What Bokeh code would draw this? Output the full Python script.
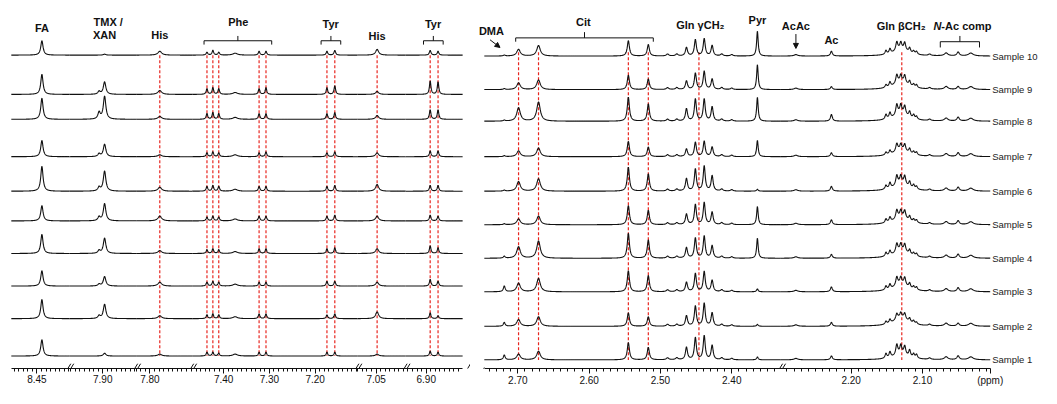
import numpy as np
from bokeh.plotting import figure
from bokeh.layouts import row
from bokeh.models import Range1d, FixedTicker, Arrow, NormalHead
from bokeh.core.properties import value
from bokeh.embed import file_html
from bokeh.resources import INLINE

FONT = "Liberation Sans"

SAMPLES = ["Sample 1", "Sample 2", "Sample 3", "Sample 4", "Sample 5",
           "Sample 6", "Sample 7", "Sample 8", "Sample 9", "Sample 10"]

# ---------------- left (aromatic) region: data ----------------
LEFT_TICKS = [8.45, 7.90, 7.80, 7.40, 7.30, 7.20, 7.05, 6.90]
LEFT_PEAK_PPM = [8.439, 7.908, 7.896, 7.7785, 7.4366, 7.4237, 7.4108, 7.375,
                 7.3226, 7.3075, 7.1742, 7.1570, 7.0478, 6.8914, 6.8742]
LEFT_PEAK_HWHM = [0.003, 0.003, 0.0033, 0.005, 0.002, 0.002, 0.002, 0.006,
                  0.002, 0.002, 0.002, 0.002, 0.004, 0.002, 0.002]
# heights, one row per peak, columns Sample 1 .. Sample 10
LEFT_HEIGHTS = [
    [17, 20, 16, 20, 16, 26, 17, 22, 21, 15],   # FA
    [0, 3, 2, 3, 4, 4, 3, 7, 3, 0],             # TMX shoulder
    [3, 15, 10, 16, 18, 21, 13, 24, 13, 1],     # TMX / XAN
    [2, 3, 4, 3, 5, 4, 2, 3, 4, 4],             # His
    [4, 4, 4, 4, 4, 5, 4, 6, 6, 3],             # Phe
    [4, 5, 5, 5, 5, 6, 5, 7, 7, 5],             # Phe
    [3, 4, 4, 4, 4, 5, 4, 6, 6, 3],             # Phe
    [2, 2, 2, 2, 2, 2, 2, 2, 2, 2],             # Phe broad
    [4, 5, 4, 5, 5, 5, 4, 6, 6, 4],             # Phe
    [4, 5, 4, 5, 5, 5, 5, 6, 7, 4],             # Phe
    [4, 4, 5, 5, 5, 5, 4, 6, 7, 4],             # Tyr
    [4, 5, 5, 6, 6, 6, 5, 7, 9, 5],             # Tyr
    [2, 7, 4, 5, 5, 7, 4, 4, 3, 6],             # His
    [5, 6, 7, 8, 6, 6, 6, 10, 14, 5],           # Tyr
    [4, 3, 5, 6, 5, 6, 6, 10, 13, 4],           # Tyr
]
LEFT_MARKERS = [7.7785, 7.4366, 7.4237, 7.4108, 7.3226, 7.3075,
                7.1742, 7.1570, 7.0478, 6.8914, 6.8742]

# ---------------- right (aliphatic) region: data ----------------
RIGHT_TICKS = [2.70, 2.60, 2.50, 2.40, 2.20, 2.10]
RIGHT_PEAK_PPM = [2.719, 2.699, 2.671, 2.545, 2.517, 2.490, 2.477,
                  2.4635, 2.451, 2.4386, 2.4275, 2.414, 2.400, 2.364,
                  2.2775, 2.2277, 2.130,
                  2.1512, 2.1456, 2.136, 2.1304, 2.1249, 2.118, 2.1124, 2.1083,
                  2.090, 2.0668, 2.050, 2.0322]
RIGHT_PEAK_HWHM = [0.0015, 0.003, 0.003, 0.0018, 0.0018, 0.002, 0.002,
                   0.0017, 0.0017, 0.0017, 0.0017, 0.002, 0.002, 0.0013,
                   0.003, 0.0016, 0.012,
                   0.0015, 0.0015, 0.0017, 0.0016, 0.0016, 0.0015, 0.0015, 0.0015,
                   0.002, 0.003, 0.002, 0.004]
RIGHT_HEIGHTS = [
    [5, 4, 6, 2, 1, 1, 1, 1, 1, 1],             # DMA
    [6, 7, 9, 12, 6, 10, 6, 14, 7, 7],          # Cit
    [9, 10, 14, 18, 9, 13, 9, 20, 10, 11],      # Cit
    [18, 14, 22, 26, 20, 25, 16, 25, 15, 16],   # Cit
    [13, 10, 17, 19, 15, 18, 10, 18, 11, 12],   # Cit
    [2, 2, 2, 2, 2, 2, 2, 2, 2, 2],
    [2, 2, 2, 2, 2, 2, 2, 2, 2, 2],
    [13, 11, 10, 11, 11, 13, 8, 13, 9, 9],      # Gln gamma
    [23, 21, 19, 21, 21, 23, 15, 23, 17, 17],
    [25, 24, 21, 23, 23, 26, 16, 23, 19, 18],
    [15, 14, 12, 13, 13, 16, 10, 15, 11, 11],
    [2, 2, 2, 2, 2, 2, 2, 2, 2, 2],
    [1.5, 1.5, 1.5, 1.5, 1.5, 1.5, 1.5, 1.5, 1.5, 1.5],
    [3, 2, 3, 21, 19, 2, 17, 25, 26, 26],       # Pyr
    [1.5, 1.5, 1.5, 1.5, 1.5, 1.5, 1.5, 1.5, 1.5, 1.5],  # AcAc
    [4, 4, 5, 4, 5, 5, 4, 7, 3, 5],             # Ac
    [6, 9, 8, 8, 8, 8, 7, 8, 8, 7],             # Gln beta broad
    [5, 3, 4, 4, 4, 4, 3, 5, 3, 4],
    [6, 4, 5, 5, 5, 6, 4, 6, 5, 5],
    [11, 6, 9, 9, 9, 10, 8, 11, 9, 9],
    [9, 5, 7, 7, 7, 8, 6, 9, 7, 7],
    [9, 6, 8, 8, 8, 9, 7, 9, 8, 8],
    [7, 4, 5, 5, 5, 6, 5, 6, 5, 5],
    [4, 3, 3, 3, 3, 4, 3, 4, 3, 3],
    [4, 2, 3, 3, 3, 3, 3, 3, 3, 3],
    [1.5, 1.5, 1.5, 1.5, 1.5, 1.5, 1.5, 1.5, 1.5, 1.5],
    [3, 3, 3, 3, 3, 3, 3, 3, 3, 3],             # N-Ac
    [4, 3, 4, 4, 4, 4, 4, 4, 3, 4],
    [3, 3, 3, 3, 3, 3, 3, 3, 3, 3],
]
RIGHT_MARKERS = [2.699, 2.671, 2.545, 2.517, 2.446, 2.129]
UNIT_LABEL = "(ppm)"

# ---------------- layout (display units = reference pixels) ----------------
LEFT_SEGS = [(11, 70, 8.45, 37), (70, 138, 7.90, 104), (138, 195, 7.80, 152),
             (195, 363, 7.40, 227), (363, 412, 7.05, 382), (412, 470, 6.90, 433)]
LEFT_SCALE = 465.0
RIGHT_SEGS = [(492, 792, 2.70, 526), (792, 1005, 2.20, 864)]
RIGHT_SCALE = 723.0
LEFT_BASE = [371, 332, 298, 264, 230, 199, 163, 124, 98, 57]
RIGHT_BASE = [375, 340, 304, 269, 234, 199, 163, 126, 93, 58]
AXIS_Y = 384
TOP_Y = 0


def to_disp(ppm, segs, scale):
    for d0, d1, ap, ad in segs:
        hi = ap + (ad - d0) / scale
        lo = ap - (d1 - ad) / scale
        if lo - 1e-9 <= ppm <= hi + 1e-9:
            return float(ad + (ap - ppm) * scale)
    return None


def spectra(segs, scale, ppms, hwhm, heights, bases):
    P = np.array(ppms)[:, None]
    W = np.array(hwhm)[:, None]
    H = np.array(heights, dtype=float)
    xs, ys = [], []
    for s in range(len(bases)):
        for d0, d1, ap, ad in segs:
            d = np.arange(d0, d1 + 1e-6, 0.25)
            ppm = ap - (d - ad) / scale
            inten = (H[:, s][:, None] * W ** 2 / ((ppm[None, :] - P) ** 2 + W ** 2)).sum(0)
            xs.append(d.tolist())
            ys.append((bases[s] - inten).tolist())
    return xs, ys


def make_fig(x0, x1, width):
    p = figure(width=width, height=388, x_range=Range1d(x0, x1),
               y_range=Range1d(AXIS_Y, TOP_Y), output_backend="svg",
               toolbar_location=None, min_border_left=0, min_border_right=0,
               min_border_top=0, min_border_bottom=16)
    p.yaxis.visible = False
    p.grid.visible = False
    p.outline_line_color = None
    p.background_fill_color = "white"
    p.border_fill_color = "white"
    return p


def style_axis(p, segs, scale, ticks, bounds, extra=None):
    major = [to_disp(t, segs, scale) for t in ticks]
    labels = {m: f"{t:.2f}" for m, t in zip(major, ticks)}
    if extra:
        for pos, txt in extra:
            major.append(float(pos))
            labels[float(pos)] = txt
    minor = []
    for d0, d1, ap, ad in segs:
        hi = ap + (ad - d0) / scale
        lo = ap - (d1 - ad) / scale
        for k in range(int(np.ceil(lo * 100 - 1e-6)), int(np.floor(hi * 100 + 1e-6)) + 1):
            minor.append(float(ad + (ap - k / 100) * scale))
    ax = p.xaxis[0]
    ax.ticker = FixedTicker(ticks=major, minor_ticks=minor)
    ax.major_label_overrides = labels
    ax.bounds = bounds
    ax.axis_line_color = "#111111"
    ax.major_tick_line_color = "#111111"
    ax.minor_tick_line_color = "#111111"
    ax.major_tick_in = 0
    ax.major_tick_out = 5
    ax.minor_tick_in = 0
    ax.minor_tick_out = 3
    ax.major_label_standoff = 1
    ax.major_label_text_font = FONT
    ax.major_label_text_font_size = "10px"
    ax.major_label_text_color = "#111111"


def slash(p, x, y, dx=4, dy=6):
    p.add_layout(Arrow(end=None, start=None, x_start=x - dx, y_start=y + dy,
                       x_end=x + dx, y_end=y - dy, line_color="#111111",
                       line_width=1, level="overlay"))


def bold_text(p, x, y, txt, align="center", size="11px", style="bold"):
    p.text(x=[x], y=[y], text=[txt], text_font=value(FONT), text_font_size=size,
           text_font_style=style, text_align=align, text_baseline="middle",
           text_color="#111111")


def bracket(p, xa, xb, y, down=4, up=5):
    xm = (xa + xb) / 2
    p.multi_line(xs=[[xa, xa, xb, xb], [xm, xm]], ys=[[y + down, y, y, y + down], [y, y - up]],
                 line_color="#111111", line_width=1)


# ---------------- left panel ----------------
pl = make_fig(0, 478, 470)
xs, ys = spectra(LEFT_SEGS, LEFT_SCALE, LEFT_PEAK_PPM, LEFT_PEAK_HWHM, LEFT_HEIGHTS, LEFT_BASE)
lm = [to_disp(v, LEFT_SEGS, LEFT_SCALE) for v in LEFT_MARKERS]
pl.segment(x0=lm, y0=[LEFT_BASE[-1]] * len(lm), x1=lm, y1=[LEFT_BASE[0]] * len(lm),
           line_color="#e8251f", line_width=1.2, line_dash="3 2")
pl.multi_line(xs=xs, ys=ys, line_color="#111111", line_width=1.1)
style_axis(pl, LEFT_SEGS, LEFT_SCALE, LEFT_TICKS, (11, 470))

LD = lambda v: to_disp(v, LEFT_SEGS, LEFT_SCALE)
bold_text(pl, LD(8.439), 29, "FA")
bold_text(pl, LD(7.888), 22, "TMX /")
bold_text(pl, LD(7.896), 36, "XAN")
bold_text(pl, LD(7.7785), 36, "His")
bold_text(pl, LD(7.368), 22, "Phe")
bracket(pl, LD(7.443), LD(7.295), 42)
bold_text(pl, LD(7.166), 24, "Tyr")
bracket(pl, LD(7.187), LD(7.144), 42)
bold_text(pl, LD(7.048), 37, "His")
bold_text(pl, LD(6.885), 24, "Tyr")
bracket(pl, LD(6.906), LD(6.863), 42)
for b in [70, 138, 195, 363, 412]:
    slash(pl, b - 1.5, AXIS_Y, 3, 5)
    slash(pl, b + 1.5, AXIS_Y, 3, 5)
slash(pl, 474, AXIS_Y + 2, 4, 7)

# ---------------- right panel ----------------
pr = make_fig(478, 1057, 571)
xs, ys = spectra(RIGHT_SEGS, RIGHT_SCALE, RIGHT_PEAK_PPM, RIGHT_PEAK_HWHM, RIGHT_HEIGHTS, RIGHT_BASE)
rm = [to_disp(v, RIGHT_SEGS, RIGHT_SCALE) for v in RIGHT_MARKERS]
pr.segment(x0=rm, y0=[RIGHT_BASE[-1] - 4] * len(rm), x1=rm, y1=[RIGHT_BASE[0]] * len(rm),
           line_color="#e8251f", line_width=1.2, line_dash="3 2")
pr.multi_line(xs=xs, ys=ys, line_color="#111111", line_width=1.1)
style_axis(pr, RIGHT_SEGS, RIGHT_SCALE, RIGHT_TICKS, (492, 1005),
           extra=[(1005, UNIT_LABEL)])

RD = lambda v: to_disp(v, RIGHT_SEGS, RIGHT_SCALE)
bold_text(pr, RD(2.737), 32, "DMA")
pr.add_layout(Arrow(end=NormalHead(size=5, fill_color="#111111", line_color="#111111"),
                    x_start=RD(2.739), y_start=41, x_end=RD(2.725), y_end=49,
                    line_color="#111111", line_width=1))
bold_text(pr, RD(2.608), 22, "Cit")
bracket(pr, RD(2.703), RD(2.510), 39, 4, 6)
bold_text(pr, RD(2.444), 26, "Gln \u03b3CH\u2082")
bold_text(pr, RD(2.364), 20, "Pyr")
bold_text(pr, RD(2.2775), 27, "AcAc")
pr.add_layout(Arrow(end=NormalHead(size=5, fill_color="#111111", line_color="#111111"),
                    x_start=RD(2.2775), y_start=35, x_end=RD(2.2775), y_end=50,
                    line_color="#111111", line_width=1))
bold_text(pr, RD(2.2277), 41, "Ac")
bold_text(pr, RD(2.130), 27, "Gln \u03b2CH\u2082")
bold_text(pr, RD(2.0735), 27, "N", align="right", style="bold italic")
bold_text(pr, RD(2.0735), 27, "-Ac comp", align="left")
bracket(pr, RD(2.075), RD(2.020), 43, 6, 6)
pr.text(x=[1007] * 10, y=RIGHT_BASE, text=SAMPLES, text_font=value(FONT),
        text_font_size="9.5px", text_align="left", text_baseline="middle",
        text_color="#222222")
slash(pr, RD(2.2982) - 1.5, AXIS_Y, 3, 5)
slash(pr, RD(2.2982) + 1.5, AXIS_Y, 3, 5)
slash(pr, 488, AXIS_Y + 4, 4, 5)

layout = row(pl, pr, spacing=0)
open("out.html", "w").write(file_html(layout, INLINE))
